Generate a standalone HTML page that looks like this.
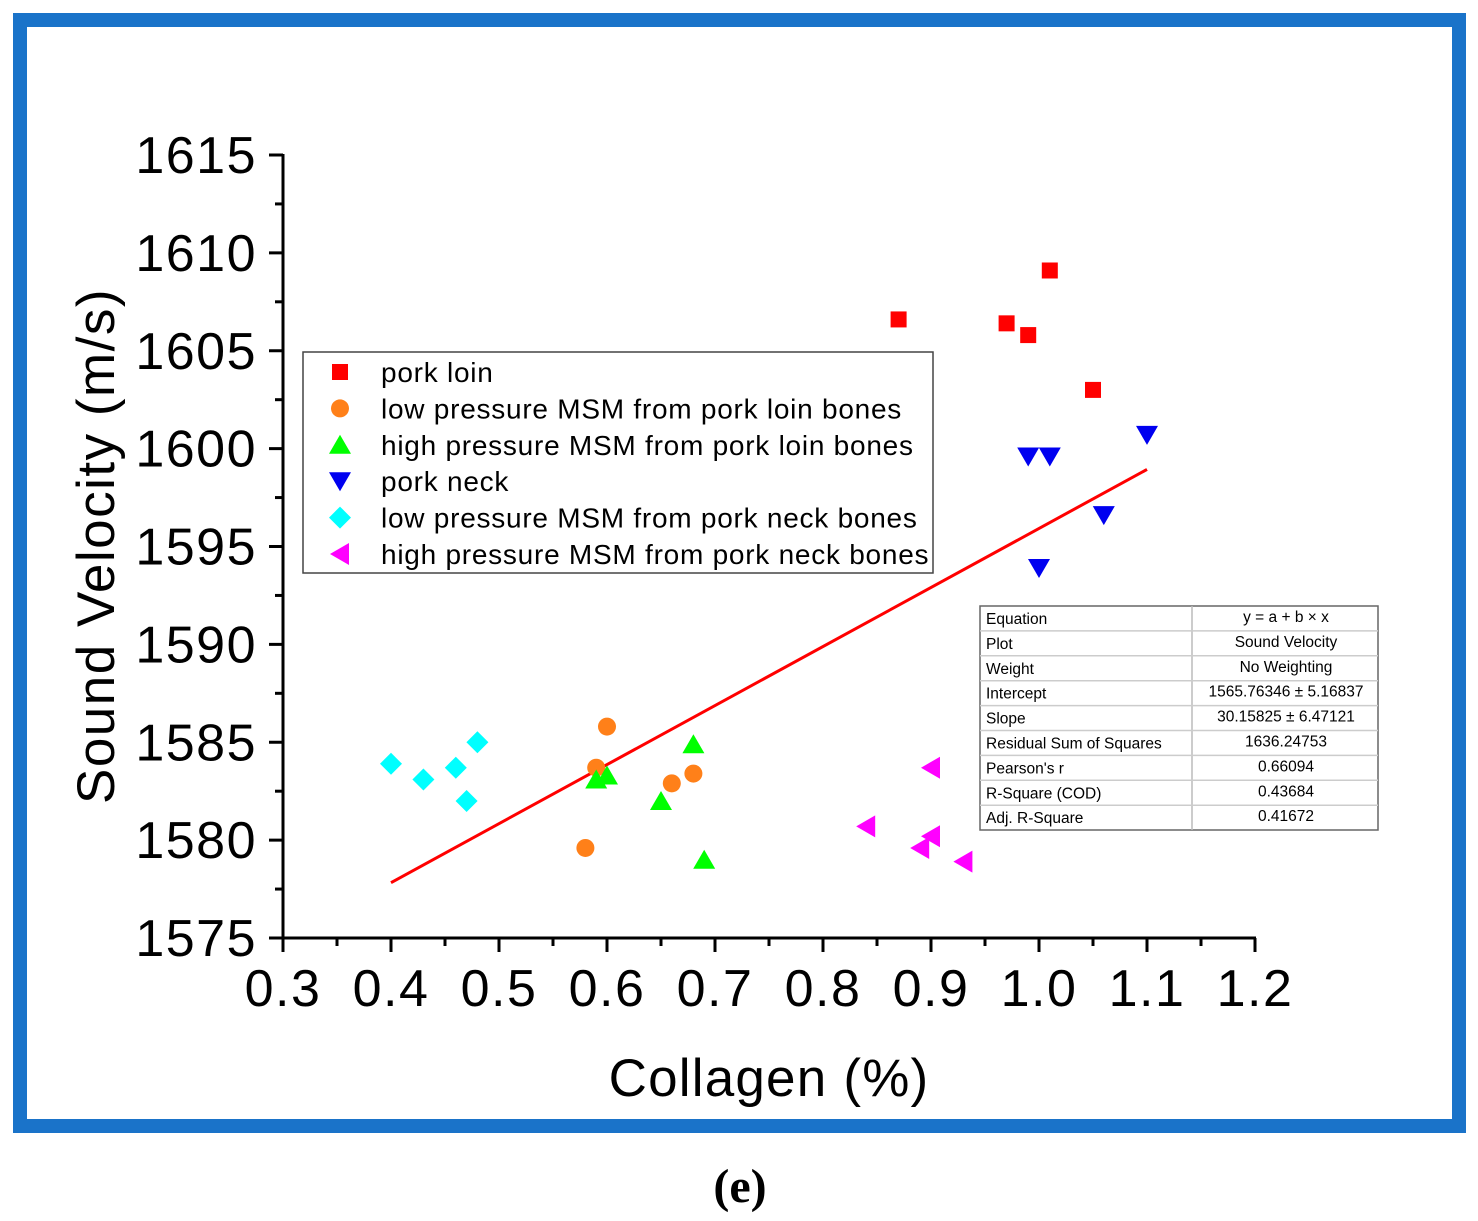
<!DOCTYPE html>
<html><head><meta charset="utf-8"><style>
html,body{margin:0;padding:0;background:#fff;}
svg{display:block;font-family:"Liberation Sans",Arial,sans-serif;}
</style></head><body>
<svg id="chart" width="1478" height="1221" viewBox="0 0 1478 1221">
<rect x="20" y="20" width="1439" height="1106" fill="#fff" stroke="#1a73c9" stroke-width="14"/>
<g id="axes"></g>
<g id="marks"></g>
<text x="114" y="546" font-size="53" letter-spacing="1.5" text-anchor="middle" transform="rotate(-90 114 546)">Sound Velocity (m/s)</text>
<text x="769" y="1096" font-size="53" letter-spacing="1.2" text-anchor="middle">Collagen (%)</text>
<text x="740" y="1202" font-size="48" font-weight="bold" text-anchor="middle" font-family="Liberation Serif,serif">(e)</text>
<g id="legend"></g>
<g id="stats"></g>
</svg>
<script>
const xTicks=[0.3,0.4,0.5,0.6,0.7,0.8,0.9,1.0,1.1,1.2];
const xTickLabels=["0.3","0.4","0.5","0.6","0.7","0.8","0.9","1.0","1.1","1.2"];
const yTicks=[1575,1580,1585,1590,1595,1600,1605,1610,1615];
const porkLoinX=[0.87,0.97,0.99,1.01,1.05];
const porkLoinY=[1606.6,1606.4,1605.8,1609.1,1603.0];
const lpLoinX=[0.58,0.59,0.60,0.66,0.68];
const lpLoinY=[1579.6,1583.7,1585.8,1582.9,1583.4];
const hpLoinX=[0.59,0.60,0.65,0.68,0.69];
const hpLoinY=[1583.1,1583.3,1582.0,1584.9,1579.0];
const neckX=[1.10,0.99,1.01,1.06,1.00];
const neckY=[1600.7,1599.6,1599.6,1596.6,1593.9];
const lpNeckX=[0.40,0.43,0.46,0.47,0.48];
const lpNeckY=[1583.9,1583.1,1583.7,1582.0,1585.0];
const hpNeckX=[0.84,0.89,0.90,0.90,0.93];
const hpNeckY=[1580.7,1579.6,1580.2,1583.7,1578.9];
const fitIntercept=1565.76346, fitSlope=30.15825, fitRange=[0.4,1.1];
const legendLabels=["pork loin","low pressure MSM from pork loin bones","high pressure MSM from pork loin bones","pork neck","low pressure MSM from pork neck bones","high pressure MSM from pork neck bones"];
const statNames=["Equation","Plot","Weight","Intercept","Slope","Residual Sum of Squares","Pearson's r","R-Square (COD)","Adj. R-Square"];
const statValues=["y = a + b × x","Sound Velocity","No Weighting","1565.76346 ± 5.16837","30.15825 ± 6.47121","1636.24753","0.66094","0.43684","0.41672"];

const NS="http://www.w3.org/2000/svg";
const sx=v=>283+(v-0.3)*1080;
const sy=v=>938-(v-1575)*19.575;
function mk(tag,attrs,parent){const e=document.createElementNS(NS,tag);for(const k in attrs)e.setAttribute(k,attrs[k]);parent.appendChild(e);return e;}
const axes=document.getElementById('axes'),marks=document.getElementById('marks');
let a=mk('line',{x1:283,y1:938,x2:1256,y2:938,stroke:'#000','stroke-width':3},axes);


a=mk('line',{x1:283,y1:938,x2:283,y2:154,stroke:'#000','stroke-width':3},axes);


xTicks.forEach((v,i)=>{
  mk('line',{x1:sx(v),y1:938,x2:sx(v),y2:952,stroke:'#000','stroke-width':3},axes);
  if(i<xTicks.length-1)mk('line',{x1:sx(v+0.05),y1:938,x2:sx(v+0.05),y2:946,stroke:'#000','stroke-width':3},axes);
  const t=mk('text',{x:sx(v),y:1006,'font-size':52,'letter-spacing':1.5,'text-anchor':'middle'},axes);t.textContent=xTickLabels[i];
  
  
});
yTicks.forEach((v,i)=>{
  mk('line',{x1:269,y1:sy(v),x2:283,y2:sy(v),stroke:'#000','stroke-width':3},axes);
  if(i<yTicks.length-1)mk('line',{x1:275,y1:sy(v+2.5),x2:283,y2:sy(v+2.5),stroke:'#000','stroke-width':3},axes);
  const t=mk('text',{x:257,y:sy(v)+18,'font-size':52,'letter-spacing':1.5,'text-anchor':'end'},axes);t.textContent=v;
  
  
});
const fl=mk('line',{x1:sx(fitRange[0]),y1:sy(fitIntercept+fitSlope*fitRange[0]),x2:sx(fitRange[1]),y2:sy(fitIntercept+fitSlope*fitRange[1]),stroke:'#f00','stroke-width':3},marks);


function marker(type,x,y,p){
  let e;
  if(type==='sq')e=mk('rect',{x:x-8,y:y-8,width:16,height:16,fill:'#f00'},p);
  else if(type==='ci')e=mk('circle',{cx:x,cy:y,r:9,fill:'#ff8019'},p);
  else if(type==='up')e=mk('polygon',{points:`${x},${y-10} ${x-11},${y+9} ${x+11},${y+9}`,fill:'#0f0'},p);
  else if(type==='dn')e=mk('polygon',{points:`${x},${y+10} ${x-11},${y-9} ${x+11},${y-9}`,fill:'#0000f0'},p);
  else if(type==='di')e=mk('polygon',{points:`${x},${y-11} ${x+11},${y} ${x},${y+11} ${x-11},${y}`,fill:'#0ff'},p);
  else e=mk('polygon',{points:`${x-10},${y} ${x+9},${y-11} ${x+9},${y+11}`,fill:'#f0f'},p);
  return e;
}
const series=[['sq',porkLoinX,porkLoinY,'pork-loin'],['ci',lpLoinX,lpLoinY,'lp-loin'],['up',hpLoinX,hpLoinY,'hp-loin'],['dn',neckX,neckY,'pork-neck'],['di',lpNeckX,lpNeckY,'lp-neck'],['lt',hpNeckX,hpNeckY,'hp-neck']];
series.forEach(s=>{s[1].forEach((x,i)=>{const e=marker(s[0],sx(x),sy(s[2][i]),marks);
  
  });});
const lg=document.getElementById('legend');
mk('rect',{x:303,y:352,width:630,height:221,fill:'#fff',stroke:'#444','stroke-width':1.5},lg);
legendLabels.forEach((l,i)=>{const y=372+i*36.4;
  const m=marker(series[i][0],340,y,lg);
  
  
  const t=mk('text',{x:381,y:y+10,'font-size':28,'letter-spacing':0.75},lg);t.textContent=l;
  
  });
const st=document.getElementById('stats');
mk('rect',{x:980,y:606,width:398,height:224,fill:'#fff',stroke:'#666','stroke-width':1.5},st);
mk('line',{x1:1192,y1:606,x2:1192,y2:830,stroke:'#bbb','stroke-width':1.5},st);
statNames.forEach((n,i)=>{const y=606+i*24.9;
  if(i>0)mk('line',{x1:980,y1:y,x2:1378,y2:y,stroke:'#ccc','stroke-width':1.5},st);
  const t=mk('text',{x:986,y:y+18,'font-size':15.5},st);t.textContent=n;
  
  
  const v=mk('text',{x:1286,y:y+16,'font-size':15.5,'text-anchor':'middle'},st);v.textContent=statValues[i];
  
  });
</script>
</body></html>
